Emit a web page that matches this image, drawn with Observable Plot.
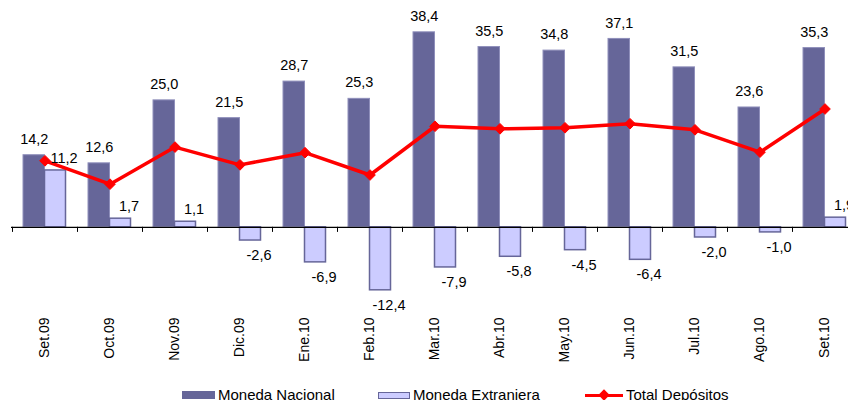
<!DOCTYPE html>
<html><head><meta charset="utf-8">
<script src="https://cdn.jsdelivr.net/npm/d3@7"></script>
<script src="https://cdn.jsdelivr.net/npm/@observablehq/plot@0.6"></script>
<style>
body{margin:0;background:#fff;overflow:hidden;font-family:"Liberation Sans",Arial,sans-serif;}
#chart{width:848px;height:386px;overflow:hidden;}
#legend{position:relative;width:848px;height:18px;line-height:18px;font-size:15px;color:#000;white-space:nowrap;}
.item{position:absolute;top:0;height:18px;display:flex;align-items:center;}
.sw{display:inline-block;margin-right:3px;}
.sw-mn{width:33px;height:8px;background:#666699;}
.sw-me{width:30px;height:5px;background:#ccccff;border:1.5px solid #666699;}
.sw-tot{width:38px;height:3px;background:#ff0000;position:relative;}
.sw-tot::after{content:"";position:absolute;left:15px;top:-3px;width:8px;height:8px;background:#ff0000;transform:rotate(45deg);}
</style>
</head><body>
<div id="chart"></div>
<div id="legend">
  <div class="item" style="left:182px"><span class="sw sw-mn"></span><span>Moneda Nacional</span></div>
  <div class="item" style="left:378px"><span class="sw sw-me"></span><span>Moneda Extranjera</span></div>
  <div class="item" style="left:585px"><span class="sw sw-tot"></span><span>Total Depósitos</span></div>
</div>
<script>
const months = ["Set.09","Oct.09","Nov.09","Dic.09","Ene.10","Feb.10","Mar.10","Abr.10","May.10","Jun.10","Jul.10","Ago.10","Set.10"];
const monedaNacional = [14.2,12.6,25.0,21.5,28.7,25.3,38.4,35.5,34.8,37.1,31.5,23.6,35.3];
const monedaExtranjera = [11.2,1.7,1.1,-2.6,-6.9,-12.4,-7.9,-5.8,-4.5,-6.4,-2.0,-1.0,1.9];
const totalDepositos = [13.1,8.5,15.8,12.3,14.7,10.3,19.9,19.4,19.6,20.4,19.2,14.8,23.3];

const data = months.map((m, i) => ({month: m, mn: monedaNacional[i], me: monedaExtranjera[i], total: totalDepositos[i]}));
const fmt = v => v.toFixed(1).replace(".", ",");

const plot = Plot.plot({
  width: 848, height: 386,
  marginLeft: 11, marginRight: 0, marginTop: 23, marginBottom: 83,
  style: {fontFamily: "Liberation Sans, Arial, sans-serif", fontSize: "14px", color: "#000", background: "#fff", overflow: "hidden"},
  x: {domain: months, range: [11.5, 857], padding: 0, tickSize: 0, tickPadding: 14, tickRotate: -90, label: null},
  y: {domain: [-15, 40], range: [303, 23.7], axis: null},
  marks: [
    Plot.barY(data, {x: "month", y: "mn", fill: "#666699", stroke: "#8f8fbb", strokeWidth: 1, insetLeft: 11, insetRight: 32.5}),
    Plot.barY(data, {x: "month", y: "me", fill: "#ccccff", stroke: "#666699", strokeWidth: 1.5, insetLeft: 32.5, insetRight: 11.5}),
    Plot.ruleY([0], {stroke: "#000", strokeWidth: 1.3}),
    Plot.ruleX(months, {x: d => d, y1: 0, y2: -1, dx: -32.5, stroke: "#000", strokeWidth: 1}),
    Plot.line(data, {x: "month", y: "total", stroke: "#ff0000", strokeWidth: 3.5}),
    Plot.dot(data, {x: "month", y: "total", symbol: "diamond2", r: 4.8, fill: "#ff0000", stroke: "#ff0000", strokeWidth: 1}),
    Plot.text(data, {x: "month", y: "mn", text: d => fmt(d.mn), dx: -10.75, dy: -16, fontSize: 14.5, fill: "#000"}),
    Plot.text(data.filter(d => d.me >= 0), {x: "month", y: "me", text: d => fmt(d.me), dx: 19, dy: -12, fontSize: 14.5, fill: "#000"}),
    Plot.text(data.filter(d => d.me < 0), {x: "month", y: "me", text: d => fmt(d.me), dx: 19, dy: 15, fontSize: 14.5, fill: "#000"})
  ]
});
document.getElementById("chart").appendChild(plot);
</script>
</body></html>
